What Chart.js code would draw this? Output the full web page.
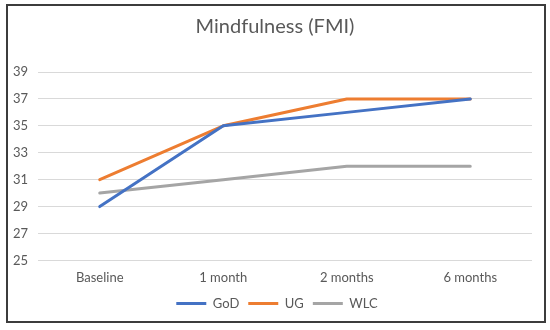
<!DOCTYPE html>
<html>
<head>
<meta charset="utf-8">
<script src="https://cdn.jsdelivr.net/npm/chart.js@4/dist/chart.umd.min.js"></script>
<style>
  html, body { margin: 0; padding: 0; background: #fff; }
  #wrap { position: relative; width: 550px; height: 330px; }
  #frame { position: absolute; left: 6px; top: 4px; width: 540px; height: 319px; box-sizing: border-box; border: 2px solid #3c3c3c; pointer-events: none; }
  canvas { position: absolute; left: 0; top: 0; }
</style>
</head>
<body>
<div id="wrap">
  <canvas id="c" width="550" height="330"></canvas>
  <div id="frame"></div>
</div>
<script>
const titleText = "Mindfulness (FMI)";
const categories = ["Baseline", "1 month", "2 months", "6 months"];
const seriesNames = ["GoD", "UG", "WLC"];
const godValues = [29, 35, 36, 37];
const ugValues = [31, 35, 37, 37];
const wlcValues = [30, 31, 32, 32];
const yTicks = [25, 27, 29, 31, 33, 35, 37, 39];
const colors = ["#4472C4", "#ED7D31", "#A5A5A5"];

const FONT = "Lato, 'Open Sans', sans-serif";
const TXT = "#595959";

const seriesValues = [godValues, ugValues, wlcValues];
const datasets = seriesNames.map((n, i) => ({
  label: n,
  data: seriesValues[i],
  borderColor: colors[i],
  backgroundColor: colors[i],
  borderWidth: 3,
  pointRadius: 0,
  tension: 0,
  borderCapStyle: 'round',
  borderJoinStyle: 'round'
}));

// center title and legend on the frame rather than on the padded canvas
const centerShift = {
  id: 'centerShift',
  afterLayout(chart) {
    const shift = (box, dx) => { if (box) { box.left += dx; box.right += dx; } };
    shift(chart.titleBlock, 5);
    shift(chart.legend, 7);
  }
};

new Chart(document.getElementById('c'), {
  type: 'line',
  data: { labels: categories, datasets: datasets },
  plugins: [centerShift],
  options: {
    responsive: false,
    animation: false,
    devicePixelRatio: 1,
    layout: { padding: { left: 8, right: 18, top: 5, bottom: 10 } },
    plugins: {
      title: {
        display: true,
        text: titleText,
        color: TXT,
        font: { family: FONT, size: 20, weight: 'normal' },
        padding: { top: 10, bottom: 33 }
      },
      legend: {
        position: 'bottom',
        labels: {
          color: TXT,
          font: { family: FONT, size: 13 },
          boxWidth: 30,
          boxHeight: 3,
          padding: 9,
          generateLabels: (chart) => chart.data.datasets.map((d, i) => ({
            text: d.label,
            fillStyle: d.borderColor,
            strokeStyle: d.borderColor,
            lineWidth: 0,
            fontColor: TXT,
            datasetIndex: i,
            hidden: false
          }))
        }
      },
      tooltip: { enabled: false }
    },
    scales: {
      x: {
        offset: true,
        afterFit: (axis) => { axis.height -= 8; },
        grid: { display: false, drawTicks: false },
        border: { display: false },
        ticks: { color: TXT, font: { family: FONT, size: 13 }, padding: 10, maxRotation: 0 }
      },
      y: {
        min: 25,
        max: 39,
        afterBuildTicks: (axis) => { axis.ticks = yTicks.map(v => ({ value: v })); },
        afterFit: (axis) => { axis.width = 30; },
        grid: { color: '#D9D9D9', lineWidth: 1, drawTicks: false },
        border: { display: false },
        ticks: { color: TXT, font: { family: FONT, size: 13 }, padding: 10 }
      }
    }
  }
});
</script>
</body>
</html>
